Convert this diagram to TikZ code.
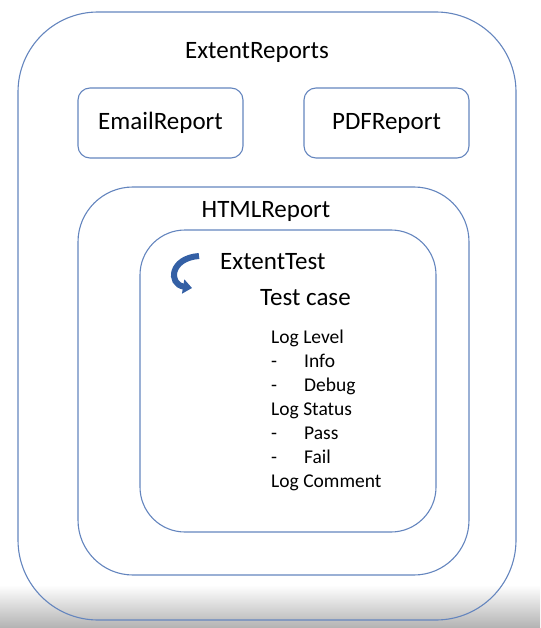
\documentclass[tikz,border=0pt]{standalone}
\usepackage{fontspec}
\setmainfont{Carlito}
\usepackage{tikz}
\usetikzlibrary{arrows.meta}
\definecolor{boxline}{RGB}{100,133,190}
\definecolor{arrowblue}{RGB}{52,96,165}
\tikzset{>=stealth}
\tikzset{%
    panel/.style={draw=boxline,line width=1.1pt,inner sep=0pt},
    title/.style={font=\fontsize{25}{28}\selectfont},
    item/.style={font=\fontsize{19.5}{24}\selectfont,anchor=base west,inner sep=0pt}
}

\begin{document}
\begin{tikzpicture}[x=1pt,y=-1pt]
\useasboundingbox (0,0) rectangle (540,628);
% screen shadow at the bottom
\shade[top color=white,bottom color=black!30] (0,585) rectangle (540,628);
\begin{scope}
\node[panel,rounded corners=80pt,minimum width=498pt,minimum height=608pt] (reports) at (267,316) {};
\node[panel,rounded corners=12pt,minimum width=165pt,minimum height=70pt] (email) at (160.5,123) {};
\node[panel,rounded corners=12pt,minimum width=165pt,minimum height=70pt] (pdf) at (386.5,123) {};
\node[panel,rounded corners=55pt,minimum width=391pt,minimum height=388pt] (html) at (273.5,381) {};
\node[panel,rounded corners=45pt,minimum width=296pt,minimum height=302pt] (test) at (288,381) {};
\end{scope}
\node[title] (reportslabel) at (257,52) {ExtentReports};
\node[title] (emaillabel) at (email) {EmailReport};
\node[title] (pdflabel) at (pdf) {PDFReport};
\node[title] (htmllabel) at (266,211) {HTMLReport};
\node[title,anchor=west,inner sep=0pt] (testlabel) at (220,262) {ExtentTest};
\node[title,anchor=west,inner sep=0pt] (caselabel) at (260,298) {Test case};
% log entries
\node[item] (level) at (271,343) {Log Level};
\node[item] (info) at (271,367) {-\hspace{27pt}Info};
\node[item] (debug) at (271,391) {-\hspace{27pt}Debug};
\node[item] (status) at (271,415) {Log Status};
\node[item] (pass) at (271,439) {-\hspace{27pt}Pass};
\node[item] (fail) at (271,463) {-\hspace{27pt}Fail};
\node[item] (comment) at (271,487) {Log Comment};
% curved arrow
\draw[arrowblue,line width=6pt,-{Triangle[length=9pt,width=14pt]}]
    (199,256) .. controls (170,258) and (168,284) .. (192,288);
\end{tikzpicture}
\end{document}
